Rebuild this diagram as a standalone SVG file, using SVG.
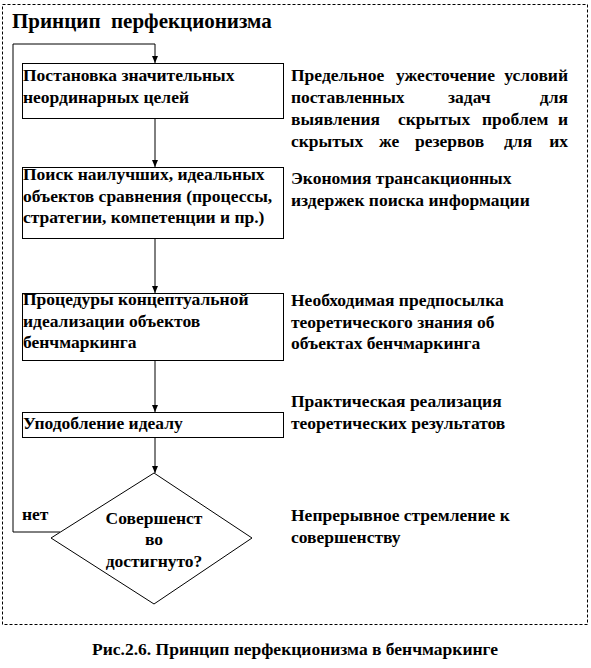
<svg xmlns="http://www.w3.org/2000/svg" width="591" height="668" viewBox="0 0 591 668">
<style>
text{font-family:"Liberation Serif","Times New Roman",serif;font-weight:bold;font-size:17.5px;fill:#000}
.box{fill:#fff;stroke:#000;stroke-width:1}
.ln{fill:none;stroke:#000;stroke-width:1}
.title{font-size:21px}
.e{text-anchor:end}
.m{text-anchor:middle}
</style>
<defs>
<marker id="ah" markerWidth="8" markerHeight="8" refX="7" refY="4" orient="auto" markerUnits="userSpaceOnUse">
<path d="M0,1 L7,4 L0,7 Z" fill="#000"/>
</marker>
</defs>
<rect x="2.5" y="4.5" width="585" height="620" fill="none" stroke="#000" stroke-width="1" stroke-dasharray="3,2"/>
<text class="title" x="12" y="28" xml:space="preserve">Принцип  перфекционизма</text>
<g id="connectors">
<polyline class="ln" points="60,532 13,532 13,44 155,44 155,63" marker-end="url(#ah)"/>
<line class="ln" x1="155" y1="118" x2="155" y2="167" marker-end="url(#ah)"/>
<line class="ln" x1="155" y1="238" x2="155" y2="293" marker-end="url(#ah)"/>
<line class="ln" x1="155" y1="360" x2="155" y2="412" marker-end="url(#ah)"/>
<line class="ln" x1="155" y1="437" x2="155" y2="473" marker-end="url(#ah)"/>
</g>
<g id="n1">
<rect class="box" x="22.5" y="63.5" width="261" height="55"/>
<text x="23" y="81">Постановка значительных</text>
<text x="23" y="103">неординарных целей</text>
</g>
<g id="n2">
<rect class="box" x="22.5" y="167.5" width="261" height="71"/>
<text x="23" y="180">Поиск наилучших, идеальных</text>
<text x="23" y="202">объектов сравнения (процессы,</text>
<text x="23" y="223">стратегии, компетенции и пр.)</text>
</g>
<g id="n3">
<rect class="box" x="22.5" y="293.5" width="261" height="67"/>
<text x="23" y="305">Процедуры концептуальной</text>
<text x="23" y="327">идеализации объектов</text>
<text x="23" y="348">бенчмаркинга</text>
</g>
<g id="n4">
<rect class="box" x="22.5" y="412.5" width="261" height="25"/>
<text x="23" y="429">Уподобление идеалу</text>
</g>
<g id="n5">
<polygon class="box" points="154,473 252,538 154,604 51,538"/>
<text class="m" x="154" y="524">Совершенст</text>
<text class="m" x="154" y="545">во</text>
<text class="m" x="154" y="567">достигнуто?</text>
</g>
<g id="lbl-net">
<text x="22" y="520">нет</text>
</g>
<g id="r1">
<text x="291" y="81">Предельное</text><text x="396" y="81">ужесточение</text><text class="e" x="568" y="81">условий</text>
<text x="291" y="103">поставленных</text><text x="448" y="103">задач</text><text class="e" x="568" y="103">для</text>
<text x="291" y="125">выявления</text><text x="398" y="125">скрытых</text><text x="482" y="125">проблем</text><text class="e" x="568" y="125">и</text>
<text x="291" y="147">скрытых</text><text x="379" y="147">же</text><text x="415" y="147">резервов</text><text x="504" y="147">для</text><text class="e" x="568" y="147">их</text>
</g>
<g id="r2">
<text x="291" y="184">Экономия трансакционных</text>
<text x="291" y="206">издержек поиска информации</text>
</g>
<g id="r3">
<text x="291" y="306">Необходимая предпосылка</text>
<text x="291" y="328">теоретического знания об</text>
<text x="291" y="349">объектах бенчмаркинга</text>
</g>
<g id="r4">
<text x="291" y="407">Практическая реализация</text>
<text x="291" y="429">теоретических результатов</text>
</g>
<g id="r5">
<text x="291" y="521">Непрерывное стремление к</text>
<text x="291" y="543">совершенству</text>
</g>
<text x="92" y="655">Рис.2.6. Принцип перфекционизма в бенчмаркинге</text>
</svg>
